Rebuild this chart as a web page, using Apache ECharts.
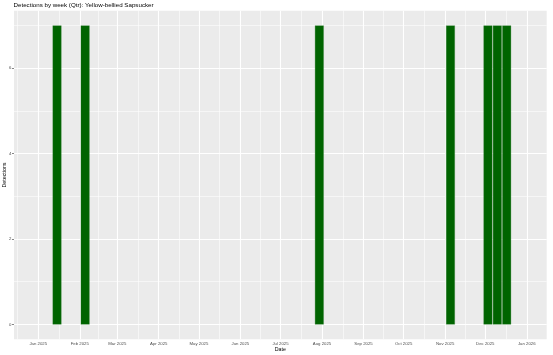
<!DOCTYPE html>
<html>
<head>
<meta charset="utf-8">
<script src="https://cdn.jsdelivr.net/npm/echarts@6/dist/echarts.min.js"></script>
<style>
html,body{margin:0;padding:0;background:#fff;}
#chart{width:553px;height:355px;}
</style>
</head>
<body>
<div id="chart"></div>
<script>
// ---- data ----
const weekDates = ['2025-01-15','2025-02-05','2025-07-30','2025-11-05','2025-12-03','2025-12-10','2025-12-17'];
const detections = [7, 7, 7, 7, 7, 7, 7];
const xTickDates = ['2025-01-01','2025-02-01','2025-03-01','2025-04-01','2025-05-01','2025-06-01','2025-07-01','2025-08-01','2025-09-01','2025-10-01','2025-11-01','2025-12-01','2026-01-01'];
const xTickLabels = ['Jan 2025','Feb 2025','Mar 2025','Apr 2025','May 2025','Jun 2025','Jul 2025','Aug 2025','Sep 2025','Oct 2025','Nov 2025','Dec 2025','Jan 2026'];
const yTicks = [0, 2, 4, 6];
const yMinor = [1, 3, 5, 7];
const titleText = 'Detections by week (Qtr): Yellow-bellied Sapsucker';

// ---- build ----
const DAY = 86400000;
const ts = d => Date.parse(d + 'T00:00:00Z');
const tickTs = xTickDates.map(ts);
const minorTs = [];
minorTs.push(tickTs[0] - (tickTs[1] - tickTs[0]) / 2 - DAY * 0.5);
for (let i = 0; i < tickTs.length - 1; i++) minorTs.push((tickTs[i] + tickTs[i + 1]) / 2);
const xMin = tickTs[0] - 18.16 * DAY;
const xMax = tickTs[0] + 379.9 * DAY;
const barHalf = 0.9 * 7 * DAY / 2;

const gridLines = [];
tickTs.forEach(t => gridLines.push({xAxis: t, lineStyle: {color: '#FFFFFF', width: 1.1, type: 'solid'}}));
minorTs.forEach(t => gridLines.push({xAxis: t, lineStyle: {color: '#FFFFFF', width: 0.55, type: 'solid'}}));
yTicks.forEach(v => gridLines.push({yAxis: v, lineStyle: {color: '#FFFFFF', width: 1.1, type: 'solid'}}));
yMinor.forEach(v => gridLines.push({yAxis: v, lineStyle: {color: '#FFFFFF', width: 0.55, type: 'solid'}}));

const FONT = 'Liberation Sans, Arial, Helvetica, sans-serif';
const chart = echarts.init(document.getElementById('chart'), null, {renderer: 'canvas'});
chart.setOption({
  animation: false,
  backgroundColor: '#FFFFFF',
  title: {
    text: titleText, left: 13.5, top: 2, padding: 0,
    textStyle: {fontFamily: FONT, fontSize: 6.2, fontWeight: 'normal', color: '#000000'}
  },
  grid: {left: 14, right: 6.3, top: 10.7, bottom: 15.7, show: true, backgroundColor: '#EBEBEB', borderWidth: 0,
         containLabel: false, outerBoundsMode: 'none'},
  xAxis: {
    type: 'value', min: xMin, max: xMax, scale: true,
    name: 'Date', nameLocation: 'middle', nameGap: 7.8, nameMoveOverlap: false,
    nameTextStyle: {fontFamily: FONT, fontSize: 5.3, color: '#000000'},
    axisLine: {show: false},
    axisTick: {show: true, customValues: tickTs, length: 2, lineStyle: {color: '#333333', width: 0.6}},
    axisLabel: {
      show: true, customValues: tickTs, margin: 2.5, fontFamily: FONT, fontSize: 4.3, color: '#4D4D4D',
      formatter: v => { const i = tickTs.indexOf(v); return i >= 0 ? xTickLabels[i] : ''; }
    },
    splitLine: {show: false}
  },
  yAxis: {
    type: 'value', min: -0.35, max: 7.35,
    name: 'Detections', nameLocation: 'middle', nameGap: 6.5, nameRotate: 90, nameMoveOverlap: false,
    nameTextStyle: {fontFamily: FONT, fontSize: 5.3, color: '#000000'},
    axisLine: {show: false},
    axisTick: {show: true, customValues: yTicks, length: 2, lineStyle: {color: '#333333', width: 0.6}},
    axisLabel: {show: true, customValues: yTicks, margin: 2.5, fontFamily: FONT, fontSize: 4.3, color: '#4D4D4D'},
    splitLine: {show: false}
  },
  series: [
    {
      type: 'line', data: [], z: 1, silent: true,
      markLine: {silent: true, symbol: 'none', label: {show: false}, animation: false, data: gridLines}
    },
    {
      type: 'custom', z: 5,
      data: weekDates.map((d, i) => [ts(d), detections[i]]),
      renderItem: (params, api) => {
        const x = api.value(0), y = api.value(1);
        const p0 = api.coord([x - barHalf, y]);
        const p1 = api.coord([x + barHalf, 0]);
        return {
          type: 'rect',
          shape: {x: p0[0], y: p0[1], width: p1[0] - p0[0], height: p1[1] - p0[1]},
          style: {fill: '#006400', stroke: '#2E7D2E', lineWidth: 0.3}
        };
      }
    }
  ]
});
</script>
</body>
</html>
